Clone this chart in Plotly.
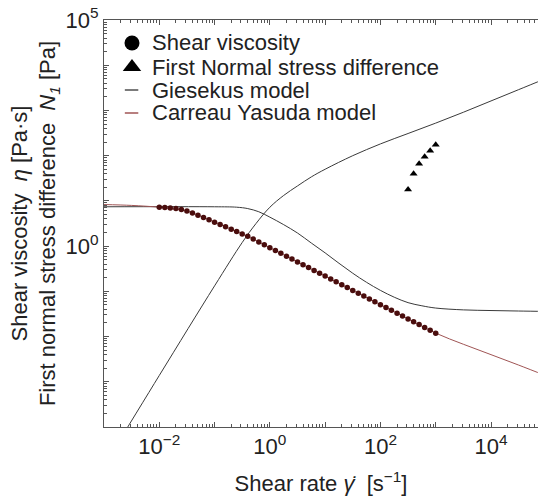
import plotly.graph_objects as go

# ---- data ----
rate_pts = [0.01, 0.0126, 0.0158, 0.02, 0.0251, 0.0316, 0.0398, 0.0501, 0.0631, 0.0794,
            0.1, 0.126, 0.158, 0.2, 0.251, 0.316, 0.398, 0.501, 0.631, 0.794,
            1.0, 1.26, 1.58, 2.0, 2.51, 3.16, 3.98, 5.01, 6.31, 7.94,
            10, 12.6, 15.8, 20, 25.1, 31.6, 39.8, 50.1, 63.1, 79.4,
            100, 126, 158, 200, 251, 316, 398, 501, 631, 794, 1000]
visc_pts = [7.24, 7.13, 6.97, 6.76, 6.46, 5.96, 5.37, 4.82, 4.31, 3.82,
            3.39, 3.01, 2.67, 2.37, 2.10, 1.86, 1.65, 1.43, 1.24, 1.07,
            0.925, 0.80, 0.692, 0.598, 0.518, 0.448, 0.387, 0.335, 0.29, 0.251,
            0.217, 0.1875, 0.162, 0.140, 0.121, 0.105, 0.0908, 0.0785, 0.0679, 0.0587,
            0.0508, 0.0440, 0.038, 0.0329, 0.0284, 0.0246, 0.0213, 0.0184, 0.0159, 0.0138, 0.0119]

n1_rate = [316, 398, 501, 631, 794, 1000]
n1_pts = [17.8, 39.8, 66.4, 95, 129, 175]

cy_rate = [1e-3, 3.16e-3, 1e-2, 1.78e-2, 3.16e-2, 5.62e-2, 0.1, 0.178, 0.316, 0.562,
           1, 3.16, 10, 31.6, 100, 316, 1000, 3162, 1e4, 31623, 1e5]
cy_visc = [8.3, 7.94, 7.24, 6.62, 5.96, 4.57, 3.39, 2.52, 1.86, 1.33,
           0.925, 0.448, 0.217, 0.105, 0.0508, 0.0246, 0.0119, 0.00676, 0.00398, 0.00234, 0.00135]

gk_rate = [1e-3, 0.1, 0.251, 0.398, 0.631, 1, 1.78, 3.16, 5.62, 10, 17.8, 31.6, 56.2,
           100, 178, 316, 562, 1000, 3162, 1e4, 31623, 1e5]
gk_visc = [7.41, 7.41, 7.25, 6.76, 5.75, 4.37, 2.98, 1.95, 1.17, 0.708, 0.417, 0.251, 0.158,
           0.105, 0.0741, 0.0562, 0.0479, 0.0427, 0.0389, 0.0376, 0.0367, 0.0359]

gk_n1_rate = [1e-3, 1e-2, 0.1, 0.316, 0.562, 1, 1.78, 3.16, 5.62, 10, 31.6, 100, 316,
              1000, 3162, 1e4, 31623, 1e5]
gk_n1 = [1.38e-5, 1.38e-3, 0.132, 1.20, 3.16, 7.24, 13.2, 21.4, 33.9, 50.1, 100, 182, 309,
         525, 912, 1622, 2884, 5129]

x_major = [1e-3, 1e-2, 1e-1, 1, 10, 100, 1e3, 1e4, 1e5]
x_labels = ["", "10<sup>−2</sup>", "", "10<sup>0</sup>", "", "10<sup>2</sup>", "", "10<sup>4</sup>", ""]
y_major = [1e-4, 1e-3, 1e-2, 1e-1, 1, 10, 100, 1e3, 1e4, 1e5]
y_labels = ["", "", "", "", "10<sup>0</sup>", "", "", "", "", "10<sup>5</sup>"]

legend_names = ["Shear viscosity", "First Normal stress difference", "Giesekus model", "Carreau Yasuda model"]

minor_x = [m * 10 ** e for e in range(-3, 5) for m in range(2, 10)]
minor_y = [m * 10 ** e for e in range(-4, 5) for m in range(2, 10)]

FONT = "Liberation Sans, Arial, sans-serif"
FS = 22
GK_COLOR = "#3a3a3a"
CY_COLOR = "#a05555"
DOT_COLOR = "#4a0d0d"

fig = go.Figure()
fig.add_trace(go.Scatter(x=gk_rate, y=gk_visc, mode="lines", line=dict(color=GK_COLOR, width=1, shape="spline"),
                         showlegend=False, hoverinfo="skip"))
fig.add_trace(go.Scatter(x=gk_n1_rate, y=gk_n1, mode="lines", line=dict(color=GK_COLOR, width=1, shape="spline"),
                         showlegend=False, hoverinfo="skip"))
fig.add_trace(go.Scatter(x=cy_rate, y=cy_visc, mode="lines", line=dict(color=CY_COLOR, width=1, shape="spline"),
                         showlegend=False, hoverinfo="skip"))
fig.add_trace(go.Scatter(x=rate_pts, y=visc_pts, mode="markers", showlegend=False,
                         marker=dict(symbol="circle", size=5.5, color=DOT_COLOR, line=dict(width=0))))
fig.add_trace(go.Scatter(x=n1_rate, y=n1_pts, mode="markers", showlegend=False,
                         marker=dict(symbol="triangle-up", size=7, color="black", line=dict(width=0))))

# ---- manual legend on an overlay axis (0..1 in both directions) ----
row_y = [0.9435, 0.8845, 0.828, 0.7715]
sym_x = 0.0645
seg = [0.048, 0.079]
text_x = 0.106
fig.add_trace(go.Scatter(x=[sym_x], y=[row_y[0]], xaxis="x2", yaxis="y2", mode="markers", showlegend=False,
                         marker=dict(symbol="circle", size=15, color="black"), hoverinfo="skip"))
fig.add_trace(go.Scatter(x=[sym_x], y=[row_y[1]], xaxis="x2", yaxis="y2", mode="markers", showlegend=False,
                         marker=dict(symbol="triangle-up", size=16, color="black"), hoverinfo="skip"))
fig.add_trace(go.Scatter(x=seg, y=[row_y[2]] * 2, xaxis="x2", yaxis="y2", mode="lines", showlegend=False,
                         line=dict(color="#222222", width=1.2), hoverinfo="skip"))
fig.add_trace(go.Scatter(x=seg, y=[row_y[3]] * 2, xaxis="x2", yaxis="y2", mode="lines", showlegend=False,
                         line=dict(color=CY_COLOR, width=1.5), hoverinfo="skip"))
for name, yy in zip(legend_names, row_y):
    fig.add_annotation(x=text_x, y=yy, xref="paper", yref="paper", text=name, showarrow=False,
                       xanchor="left", yanchor="middle", font=dict(family=FONT, size=FS, color="#222222"))

axis_common = dict(
    showgrid=False, zeroline=False, showline=True, linecolor="#555555", linewidth=1,
    ticks="inside", ticklen=5, tickcolor="#555555",
    tickfont=dict(family=FONT, size=FS, color="#222222"),
)

xaxis = dict(type="log", range=[-3, 4.85], tickmode="array", tickvals=x_major, ticktext=x_labels,
             mirror="ticks",
             minor=dict(tickmode="array", tickvals=minor_x, ticks="inside", ticklen=3, tickcolor="#555555"),
             title=dict(text="Shear rate <i>γ̇</i>  [s<sup>−1</sup>]", font=dict(family=FONT, size=FS, color="#222222"),
                        standoff=17),
             **axis_common)
yaxis = dict(type="log", range=[-4, 5], tickmode="array", tickvals=y_major, ticktext=y_labels,
             mirror=False,
             minor=dict(tickmode="array", tickvals=minor_y, ticks="inside", ticklen=3, tickcolor="#555555"),
             title=dict(text="Shear viscosity  <i>η</i> [Pa·s]<br>First normal stress difference  <i>N<sub>1</sub></i> [Pa]",
                        font=dict(family=FONT, size=FS, color="#222222"), standoff=3),
             **axis_common)

fig.update_layout(
    width=538, height=498,
    margin=dict(l=104, r=0, t=20, b=71),
    paper_bgcolor="white", plot_bgcolor="white",
    font=dict(family=FONT, size=FS, color="#222222"),
    xaxis=xaxis,
    yaxis=yaxis,
    xaxis2=dict(overlaying="x", range=[0, 1], visible=False, fixedrange=True),
    yaxis2=dict(overlaying="y", range=[0, 1], visible=False, fixedrange=True),
    showlegend=False,
)

fig.write_html("out.html")
